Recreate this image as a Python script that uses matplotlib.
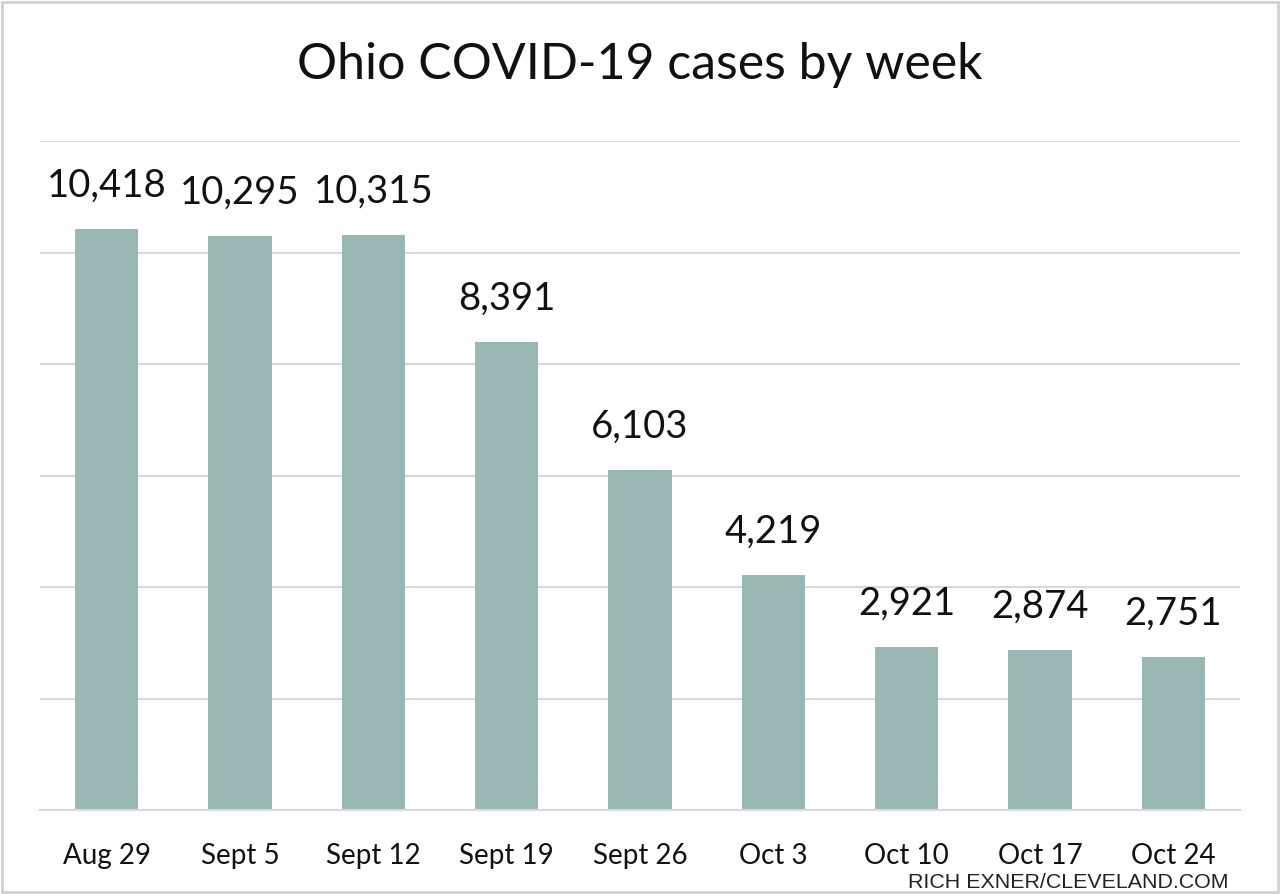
import numpy as np
import matplotlib.pyplot as plt

weeks = ['Aug 29', 'Sept 5', 'Sept 12', 'Sept 19', 'Sept 26',
         'Oct 3', 'Oct 10', 'Oct 17', 'Oct 24']
cases = [10418, 10295, 10315, 8391, 6103, 4219, 2921, 2874, 2751]

bar_color = '#9bb7b3'
grid_color = '#d9d9d9'

plt.rcParams['font.family'] = ['Lato', 'DejaVu Sans']

fig = plt.figure(figsize=(12.8, 8.94), dpi=100)
ax = fig.add_axes([40 / 1280, 1 - 810 / 894, 1200 / 1280, (810 - 141) / 894])

x = np.arange(len(weeks))
ax.bar(x, cases, width=0.475, color=bar_color, zorder=2)

for xi, v in zip(x, cases):
    ax.text(xi, v + 450, f'{v:,}', ha='center', va='bottom', fontsize=27.5, color='#111111')

ax.set_xlim(-0.5, len(weeks) - 0.5)
ax.set_ylim(0, 12000)
ax.set_yticks(np.arange(0, 12001, 2000))
ax.yaxis.grid(True, color=grid_color, linewidth=1.5, zorder=0)
ax.tick_params(axis='y', left=False, labelleft=False)
ax.tick_params(axis='x', bottom=False, labelsize=20, pad=20, labelcolor='#111111')
ax.set_xticks(x)
ax.set_xticklabels(weeks)
for s in ['top', 'right', 'left']:
    ax.spines[s].set_visible(False)
ax.spines['bottom'].set_color(grid_color)
ax.spines['bottom'].set_linewidth(1.5)

fig.text(0.5, 1 - 65 / 894, 'Ohio COVID-19 cases by week', ha='center', va='center',
         fontsize=36, color='#111111')
fig.text(1229 / 1280, 1 - 888 / 894, 'RICH EXNER/CLEVELAND.COM', ha='right', va='baseline',
         fontsize=15.4, color='#222222', family='Liberation Sans')

# light border around the whole graphic
fig.patches.append(plt.Rectangle((2 / 1280, 2 / 894), 1 - 4 / 1280, 1 - 4 / 894,
                                 transform=fig.transFigure, fill=False,
                                 edgecolor='#d0d0d0', linewidth=2))

fig.savefig('out.png', dpi=100)
